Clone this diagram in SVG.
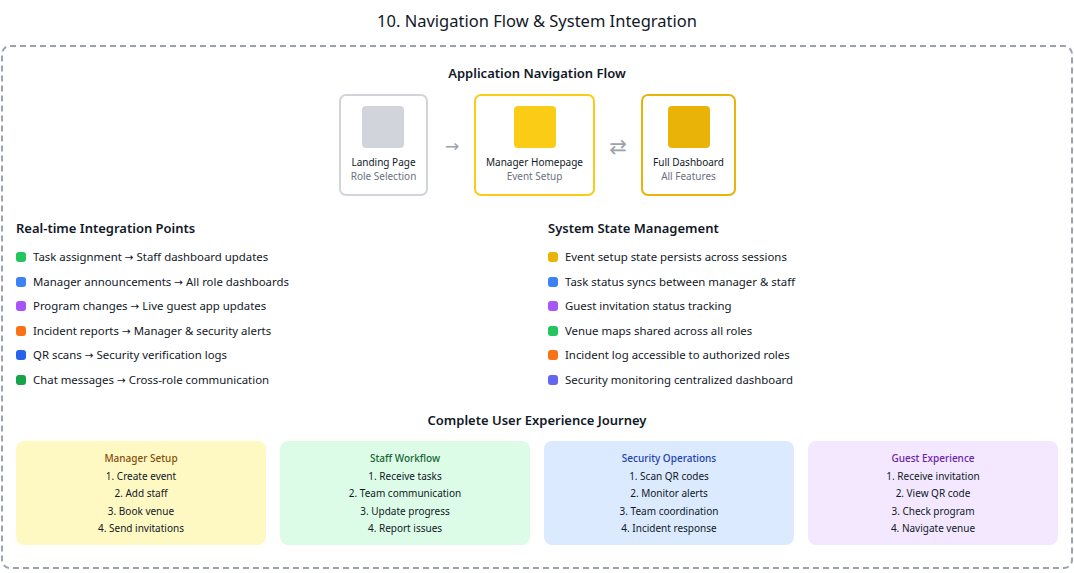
<svg xmlns="http://www.w3.org/2000/svg" width="1074" height="573" viewBox="0 0 1074 573">
<style>
text{font-family:"Noto Sans","Liberation Sans",sans-serif;fill:#111827}
.title{font-size:16.5px;text-anchor:middle}
.h{font-size:13px;font-weight:600}
.hc{text-anchor:middle}
.item{font-size:11.4px}
.ar{font-family:"DejaVu Sans",sans-serif;font-size:10.5px}
.nl{font-size:10px;text-anchor:middle}
.ns{font-size:10px;text-anchor:middle;fill:#6b7280}
.ct{font-size:10px;text-anchor:middle}
.cth{font-weight:500}
.arrow{font-family:"DejaVu Sans",sans-serif;font-size:17px;fill:#9ca3af;text-anchor:middle}
.arrow2{font-family:"DejaVu Sans",sans-serif;font-size:21px;fill:#9ca3af;text-anchor:middle}
</style>
<rect width="1074" height="573" fill="#ffffff"/>
<text class="title" x="537" y="27">10. Navigation Flow &amp; System Integration</text>
<rect x="2" y="46" width="1070" height="522" rx="8" fill="none" stroke="#9ca3af" stroke-width="2" stroke-dasharray="6 4"/>
<text class="h hc" x="537" y="78">Application Navigation Flow</text>
<g id="node-landing">
<rect x="340" y="95" width="87" height="100" rx="6" fill="#fff" stroke="#d1d5db" stroke-width="2"/>
<rect x="362" y="106" width="42" height="42" rx="4" fill="#d1d5db"/>
<text class="nl" x="383.5" y="166">Landing Page</text>
<text class="ns" x="383.5" y="180">Role Selection</text>
</g>
<g id="node-manager">
<rect x="475" y="95" width="119" height="100" rx="6" fill="#fff" stroke="#facc15" stroke-width="2"/>
<rect x="514" y="106" width="42" height="42" rx="4" fill="#facc15"/>
<text class="nl" x="534.5" y="166">Manager Homepage</text>
<text class="ns" x="534.5" y="180">Event Setup</text>
</g>
<g id="node-dashboard">
<rect x="642" y="95" width="93" height="100" rx="6" fill="#fff" stroke="#eab308" stroke-width="2"/>
<rect x="668" y="106" width="42" height="42" rx="4" fill="#eab308"/>
<text class="nl" x="688.5" y="166">Full Dashboard</text>
<text class="ns" x="688.5" y="180">All Features</text>
</g>
<g id="connectors">
<text class="arrow" x="452" y="152">→</text>
<text class="arrow2" x="618" y="154">⇄</text>
</g>
<g id="integration">
<text class="h" x="16" y="233">Real-time Integration Points</text>
<rect x="16" y="252" width="10" height="10" rx="3" fill="#22c55e"/>
<text class="item" x="33" y="261">Task assignment <tspan class="ar">→</tspan> Staff dashboard updates</text>
<rect x="16" y="277" width="10" height="10" rx="3" fill="#3b82f6"/>
<text class="item" x="33" y="286">Manager announcements <tspan class="ar">→</tspan> All role dashboards</text>
<rect x="16" y="301" width="10" height="10" rx="3" fill="#a855f7"/>
<text class="item" x="33" y="310">Program changes <tspan class="ar">→</tspan> Live guest app updates</text>
<rect x="16" y="326" width="10" height="10" rx="3" fill="#f97316"/>
<text class="item" x="33" y="335">Incident reports <tspan class="ar">→</tspan> Manager &amp; security alerts</text>
<rect x="16" y="350" width="10" height="10" rx="3" fill="#2563eb"/>
<text class="item" x="33" y="359">QR scans <tspan class="ar">→</tspan> Security verification logs</text>
<rect x="16" y="375" width="10" height="10" rx="3" fill="#16a34a"/>
<text class="item" x="33" y="384">Chat messages <tspan class="ar">→</tspan> Cross-role communication</text>
</g>
<g id="state">
<text class="h" x="548" y="233">System State Management</text>
<rect x="548" y="252" width="10" height="10" rx="3" fill="#eab308"/>
<text class="item" x="565" y="261">Event setup state persists across sessions</text>
<rect x="548" y="277" width="10" height="10" rx="3" fill="#3b82f6"/>
<text class="item" x="565" y="286">Task status syncs between manager &amp; staff</text>
<rect x="548" y="301" width="10" height="10" rx="3" fill="#a855f7"/>
<text class="item" x="565" y="310">Guest invitation status tracking</text>
<rect x="548" y="326" width="10" height="10" rx="3" fill="#22c55e"/>
<text class="item" x="565" y="335">Venue maps shared across all roles</text>
<rect x="548" y="350" width="10" height="10" rx="3" fill="#f97316"/>
<text class="item" x="565" y="359">Incident log accessible to authorized roles</text>
<rect x="548" y="375" width="10" height="10" rx="3" fill="#6366f1"/>
<text class="item" x="565" y="384">Security monitoring centralized dashboard</text>
</g>
<text class="h hc" x="537" y="425">Complete User Experience Journey</text>
<g id="card-manager">
<rect x="16" y="441" width="250" height="104" rx="8" fill="#fef9c3"/>
<text class="ct cth" x="141" y="462" style="fill:#854d0e">Manager Setup</text>
<text class="ct" x="141" y="480">1. Create event</text>
<text class="ct" x="141" y="497">2. Add staff</text>
<text class="ct" x="141" y="515">3. Book venue</text>
<text class="ct" x="141" y="532">4. Send invitations</text>
</g>
<g id="card-staff">
<rect x="280" y="441" width="250" height="104" rx="8" fill="#dcfce7"/>
<text class="ct cth" x="405" y="462" style="fill:#166534">Staff Workflow</text>
<text class="ct" x="405" y="480">1. Receive tasks</text>
<text class="ct" x="405" y="497">2. Team communication</text>
<text class="ct" x="405" y="515">3. Update progress</text>
<text class="ct" x="405" y="532">4. Report issues</text>
</g>
<g id="card-security">
<rect x="544" y="441" width="250" height="104" rx="8" fill="#dbeafe"/>
<text class="ct cth" x="669" y="462" style="fill:#1e40af">Security Operations</text>
<text class="ct" x="669" y="480">1. Scan QR codes</text>
<text class="ct" x="669" y="497">2. Monitor alerts</text>
<text class="ct" x="669" y="515">3. Team coordination</text>
<text class="ct" x="669" y="532">4. Incident response</text>
</g>
<g id="card-guest">
<rect x="808" y="441" width="250" height="104" rx="8" fill="#f3e8ff"/>
<text class="ct cth" x="933" y="462" style="fill:#6b21a8">Guest Experience</text>
<text class="ct" x="933" y="480">1. Receive invitation</text>
<text class="ct" x="933" y="497">2. View QR code</text>
<text class="ct" x="933" y="515">3. Check program</text>
<text class="ct" x="933" y="532">4. Navigate venue</text>
</g>
</svg>
